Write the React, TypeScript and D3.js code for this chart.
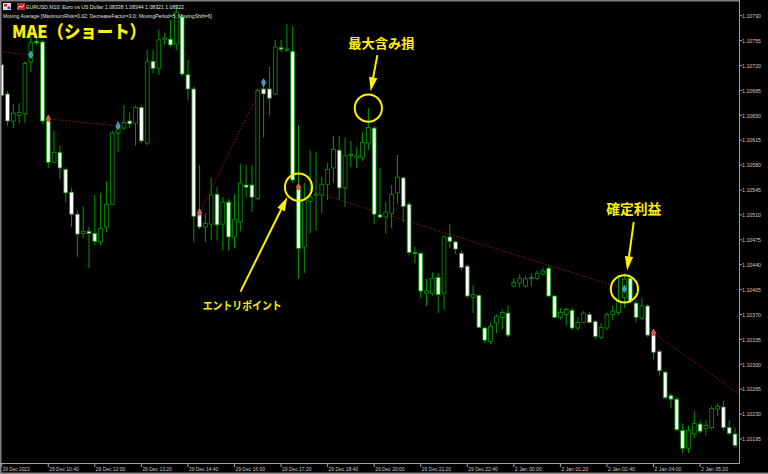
import React from 'react';
import * as d3 from 'd3';

// ---- data (EURUSD M10) ----
const opens = [1.10721,1.10680,1.10642,1.10650,1.10652,1.10725,1.10754,1.10753,1.10642,1.10584,1.10598,1.10574,1.10542,1.10511,1.10484,1.10487,1.10484,1.10472,1.10493,1.10525,1.10625,1.10632,1.10642,1.10639,1.10661,1.10611,1.10726,1.10716,1.10757,1.10757,1.10750,1.10788,1.10707,1.10687,1.10510,1.10493,1.10497,1.10539,1.10497,1.10528,1.10479,1.10500,1.10552,1.10552,1.10533,1.10687,1.10687,1.10680,1.10745,1.10742,1.10740,1.10546,1.10465,1.10529,1.10538,1.10538,1.10553,1.10576,1.10601,1.10548,1.10594,1.10591,1.10591,1.10611,1.10632,1.10510,1.10507,1.10512,1.10541,1.10562,1.10525,1.10457,1.10456,1.10400,1.10400,1.10422,1.10400,1.10479,1.10472,1.10456,1.10438,1.10394,1.10397,1.10351,1.10332,1.10358,1.10366,1.10372,1.10410,1.10414,1.10410,1.10421,1.10421,1.10427,1.10435,1.10396,1.10366,1.10370,1.10376,1.10351,1.10359,1.10370,1.10360,1.10338,1.10351,1.10370,1.10373,1.10394,1.10421,1.10386,1.10365,1.10382,1.10341,1.10318,1.10289,1.10256,1.10251,1.10207,1.10182,1.10202,1.10216,1.10210,1.10211,1.10237,1.10240,1.10211,1.10202];
const highs = [1.10728,1.10684,1.10666,1.10667,1.10726,1.10766,1.10761,1.10756,1.10646,1.10628,1.10607,1.10577,1.10548,1.10517,1.10522,1.10493,1.10538,1.10541,1.10557,1.10628,1.10642,1.10664,1.10654,1.10664,1.10664,1.10742,1.10742,1.10770,1.10766,1.10784,1.10805,1.10792,1.10728,1.10690,1.10580,1.10512,1.10562,1.10549,1.10535,1.10532,1.10539,1.10581,1.10580,1.10580,1.10688,1.10699,1.10718,1.10756,1.10756,1.10778,1.10775,1.10636,1.10555,1.10601,1.10598,1.10563,1.10583,1.10621,1.10621,1.10619,1.10614,1.10605,1.10626,1.10660,1.10635,1.10576,1.10528,1.10552,1.10594,1.10564,1.10528,1.10465,1.10458,1.10420,1.10429,1.10428,1.10481,1.10497,1.10474,1.10460,1.10441,1.10411,1.10398,1.10353,1.10359,1.10370,1.10377,1.10383,1.10421,1.10427,1.10424,1.10428,1.10432,1.10435,1.10439,1.10397,1.10379,1.10380,1.10379,1.10366,1.10375,1.10373,1.10363,1.10358,1.10373,1.10383,1.10425,1.10428,1.10424,1.10390,1.10393,1.10384,1.10348,1.10321,1.10291,1.10259,1.10254,1.10217,1.10214,1.10234,1.10221,1.10221,1.10241,1.10245,1.10249,1.10221,1.10211];
const lows = [1.10676,1.10635,1.10632,1.10639,1.10639,1.10711,1.10749,1.10638,1.10576,1.10583,1.10560,1.10528,1.10493,1.10451,1.10477,1.10435,1.10467,1.10467,1.10486,1.10524,1.10598,1.10629,1.10632,1.10607,1.10611,1.10608,1.10709,1.10707,1.10749,1.10746,1.10742,1.10705,1.10671,1.10472,1.10490,1.10472,1.10474,1.10474,1.10460,1.10460,1.10463,1.10487,1.10535,1.10514,1.10531,1.10619,1.10650,1.10678,1.10739,1.10739,1.10555,1.10420,1.10428,1.10484,1.10488,1.10512,1.10531,1.10555,1.10531,1.10521,1.10577,1.10576,1.10586,1.10601,1.10497,1.10505,1.10484,1.10491,1.10526,1.10500,1.10453,1.10442,1.10393,1.10382,1.10397,1.10372,1.10377,1.10463,1.10455,1.10432,1.10393,1.10372,1.10351,1.10330,1.10328,1.10344,1.10349,1.10338,1.10408,1.10408,1.10408,1.10410,1.10418,1.10425,1.10394,1.10365,1.10363,1.10355,1.10348,1.10348,1.10358,1.10358,1.10335,1.10335,1.10348,1.10362,1.10369,1.10379,1.10386,1.10359,1.10362,1.10338,1.10307,1.10284,1.10251,1.10238,1.10206,1.10175,1.10175,1.10196,1.10203,1.10200,1.10208,1.10227,1.10207,1.10200,1.10183];
const closes = [1.10678,1.10642,1.10653,1.10654,1.10723,1.10752,1.10752,1.10642,1.10584,1.10598,1.10576,1.10541,1.10511,1.10483,1.10487,1.10484,1.10473,1.10491,1.10525,1.10625,1.10633,1.10640,1.10638,1.10661,1.10614,1.10726,1.10716,1.10756,1.10759,1.10749,1.10795,1.10708,1.10687,1.10508,1.10493,1.10498,1.10538,1.10496,1.10528,1.10479,1.10504,1.10555,1.10549,1.10535,1.10685,1.10680,1.10674,1.10746,1.10743,1.10743,1.10559,1.10463,1.10531,1.10535,1.10539,1.10553,1.10574,1.10602,1.10548,1.10593,1.10595,1.10593,1.10612,1.10633,1.10511,1.10507,1.10514,1.10539,1.10563,1.10522,1.10457,1.10456,1.10403,1.10403,1.10421,1.10398,1.10479,1.10473,1.10462,1.10436,1.10396,1.10398,1.10352,1.10334,1.10353,1.10367,1.10373,1.10341,1.10415,1.10421,1.10420,1.10422,1.10428,1.10431,1.10396,1.10366,1.10373,1.10377,1.10351,1.10359,1.10372,1.10359,1.10339,1.10352,1.10370,1.10375,1.10389,1.10420,1.10389,1.10366,1.10382,1.10341,1.10317,1.10291,1.10253,1.10251,1.10208,1.10182,1.10207,1.10217,1.10206,1.10214,1.10238,1.10241,1.10211,1.10203,1.10186];

const timeLabels = ['29 Dec 2023','29 Dec 10:40','29 Dec 12:00','29 Dec 13:20','29 Dec 14:40','29 Dec 16:00','29 Dec 17:20','29 Dec 18:40','29 Dec 20:00','29 Dec 21:20','29 Dec 22:40','2 Jan 00:00','2 Jan 01:20','2 Jan 02:40','2 Jan 04:00','2 Jan 05:20'];
const barsPerLabel = 8;
const priceTicks = [1.10790,1.10755,1.10720,1.10685,1.10650,1.10615,1.10580,1.10545,1.10510,1.10475,1.10440,1.10405,1.10370,1.10335,1.10300,1.10265,1.10230,1.10195];

// trade history (sell trades)
const tradeOpenIdx = [-6, 8, 34, 51, 112];
const tradeOpenPrice = [1.10744, 1.10645, 1.10513, 1.10549, 1.10344];
const tradeCloseIdx = [5, 20, 45, 107, 130];
const tradeClosePrice = [1.10735, 1.10635, 1.10696, 1.10406, 1.10239];

// annotations anchored on (bar index, price)
const annTexts = ['最大含み損', 'エントリポイント', '確定利益'];
const annIdx = [63, 51, 107];
const annPrice = [1.10660, 1.10549, 1.10406];

const headerLine1 = 'EURUSD,M10:  Euro vs US Dollar  1.08338 1.08344 1.08321 1.08322';
const headerLine2 = 'Moving Average [MaximumRisk=0.02; DecreaseFactor=3.0; MovingPeriod=5; MovingShift=6]';
const title = 'MAE（ショート）';

const W = 768, H = 474;
const RIGHT = 739, BOTTOM = 463;
const GREEN = '#009a00';
const YEL = '#fff000';
const AX = '#c8c8c8';

function arrow(x1: number, y1: number, x2: number, y2: number, key: string) {
  const dx = x2 - x1, dy = y2 - y1;
  const len = Math.hypot(dx, dy);
  const ux = dx / len, uy = dy / len;
  const hl = 14, hw = 4.2;
  const bx = x2 - ux * hl, by = y2 - uy * hl;
  const px = -uy, py = ux;
  const pts = [[x2, y2], [bx + px * hw, by + py * hw], [bx - px * hw, by - py * hw]];
  return (
    <g key={key}>
      <line x1={x1} y1={y1} x2={bx + ux * 2} y2={by + uy * 2} stroke={YEL} strokeWidth={2} />
      <polygon points={pts.map(p => p.join(',')).join(' ')} fill={YEL} />
    </g>
  );
}

export default function App() {
  const x = d3.scaleLinear().domain([0, 126]).range([1.7, 735.0]);
  const y = d3.scaleLinear().domain([1.10195, 1.10790]).range([439, 15.7]);
  const bw = 3.8;
  const diamond = d3.symbol().type(d3.symbolDiamond).size(16)() as string;

  const candles = opens.map((o, i) => {
    const c = closes[i];
    const cx = x(i);
    const top = y(Math.max(o, c));
    const bot = y(Math.min(o, c));
    const bull = c >= o;
    return (
      <g key={i}>
        <line x1={cx} x2={cx} y1={y(highs[i])} y2={y(lows[i])} stroke={GREEN} strokeWidth={1} />
        <rect x={cx - bw / 2} y={top} width={bw} height={Math.max(1, bot - top)}
          fill={bull ? '#000' : '#fff'} stroke={GREEN} strokeWidth={0.8} />
      </g>
    );
  });

  const trades = tradeOpenIdx.map((oi, k) => (
    <line key={'t' + k} x1={x(oi)} y1={y(tradeOpenPrice[k])} x2={x(tradeCloseIdx[k])} y2={y(tradeClosePrice[k])}
      stroke="#a01c1c" strokeWidth={1} strokeDasharray="1.2,1.8" />
  ));
  const markers: any[] = [];
  tradeOpenIdx.forEach((oi, k) => {
    if (oi >= 0 && oi <= 126) markers.push(
      <path key={'mo' + k} d={diamond} transform={`translate(${x(oi)},${y(tradeOpenPrice[k])})`} fill="#e8503c" stroke="#ff9c88" strokeWidth={0.6} />);
    const ci = tradeCloseIdx[k];
    if (ci >= 0 && ci <= 126) markers.push(
      <path key={'mc' + k} d={diamond} transform={`translate(${x(ci)},${y(tradeClosePrice[k])})`} fill="#3c8ce0" stroke="#90c4f0" strokeWidth={0.6} />);
  });

  const a = annIdx.map((ix, k) => ({ cx: x(ix), cy: y(annPrice[k]) }));

  return (
    <svg width={W} height={H} style={{ position: 'absolute', left: 0, top: 0, background: '#000' }}
      fontFamily="'Liberation Sans', Arial, sans-serif">
      <defs>
        <clipPath id="plot"><rect x={1.5} y={1.5} width={RIGHT - 1.5} height={BOTTOM - 1.5} /></clipPath>
      </defs>
      <rect x={0} y={0} width={W} height={H} fill="#000" />
      <rect x={0} y={0} width={1.5} height={H} fill="#808080" />
      <rect x={0} y={0} width={RIGHT} height={1.5} fill="#808080" />
      <rect x={0} y={H - 1.5} width={W} height={1.5} fill="#808080" />
      <g clipPath="url(#plot)">
        {trades}
        {candles}
        {markers}
      </g>
      <line x1={RIGHT + 0.5} x2={RIGHT + 0.5} y1={0} y2={BOTTOM + 0.5} stroke="#a0a0a0" strokeWidth={1} />
      <line x1={0} x2={RIGHT + 0.5} y1={BOTTOM + 0.5} y2={BOTTOM + 0.5} stroke="#a0a0a0" strokeWidth={1} />
      {priceTicks.map((p, i) => (
        <g key={'p' + i}>
          <line x1={RIGHT} x2={RIGHT + 3} y1={y(p)} y2={y(p)} stroke="#a0a0a0" />
          <text x={742} y={y(p) + 2.2} fontSize={6.2} fill={AX} textLength={19} lengthAdjust="spacingAndGlyphs">{p.toFixed(5)}</text>
        </g>
      ))}
      {timeLabels.map((t, i) => {
        const tx = x(i * barsPerLabel);
        return (
          <g key={'x' + i}>
            <line x1={tx} x2={tx} y1={BOTTOM} y2={BOTTOM + 4} stroke="#a0a0a0" />
            <text x={tx + 1} y={470.5} fontSize={6} fill={AX}
              textLength={t.length * 2.45} lengthAdjust="spacingAndGlyphs">{t}</text>
          </g>
        );
      })}
      <rect x={3} y={3} width={8} height={7} fill="#e0e0e0" />
      <rect x={4} y={4} width={3} height={2.5} fill="#d03030" />
      <rect x={7.5} y={6.5} width={3} height={2.5} fill="#3050c0" />
      <rect x={17} y={3} width={8} height={7} fill="#c02828" />
      <polyline points="18,8.5 20,6 22,7.5 24,4.5" fill="none" stroke="#fff" strokeWidth={0.8} />
      <text x={26} y={9} fontSize={6} fill="#e0e0e0" textLength={158} lengthAdjust="spacingAndGlyphs">{headerLine1}</text>
      <text x={3} y={17.5} fontSize={6} fill="#e0e0e0" textLength={209} lengthAdjust="spacingAndGlyphs">{headerLine2}</text>
      <text x={12} y={38} fontSize={17.5} fontWeight="900" fill={YEL}
        fontFamily="'Noto Sans CJK JP', 'Noto Sans', sans-serif" textLength={134} lengthAdjust="spacingAndGlyphs">{title}</text>
      <g fontFamily="'Noto Sans CJK JP', sans-serif" fill={YEL}>
        {a.map((p, k) => (
          <circle key={'c' + k} cx={p.cx} cy={p.cy} r={13.6} fill="none" stroke={YEL} strokeWidth={2} />
        ))}
        {arrow(a[0].cx + 9, a[0].cy - 53, a[0].cx + 2.3, a[0].cy - 17, 'a0')}
        <text x={a[0].cx + 13} y={a[0].cy - 60} fontSize={13} fontWeight="bold" textAnchor="middle" textLength={66} lengthAdjust="spacingAndGlyphs">{annTexts[0]}</text>
        {arrow(a[1].cx - 58, a[1].cy + 104.5, a[1].cx - 11.2, a[1].cy + 9.8, 'a1')}
        <text x={a[1].cx - 56.3} y={a[1].cy + 122.5} fontSize={11} fontWeight="bold" textAnchor="middle" textLength={79} lengthAdjust="spacingAndGlyphs">{annTexts[1]}</text>
        {arrow(a[2].cx + 9.3, a[2].cy - 66.8, a[2].cx + 2.7, a[2].cy - 18.5, 'a2')}
        <text x={a[2].cx + 9.4} y={a[2].cy - 74.5} fontSize={13.5} fontWeight="bold" textAnchor="middle" textLength={55} lengthAdjust="spacingAndGlyphs">{annTexts[2]}</text>
      </g>
    </svg>
  );
}
